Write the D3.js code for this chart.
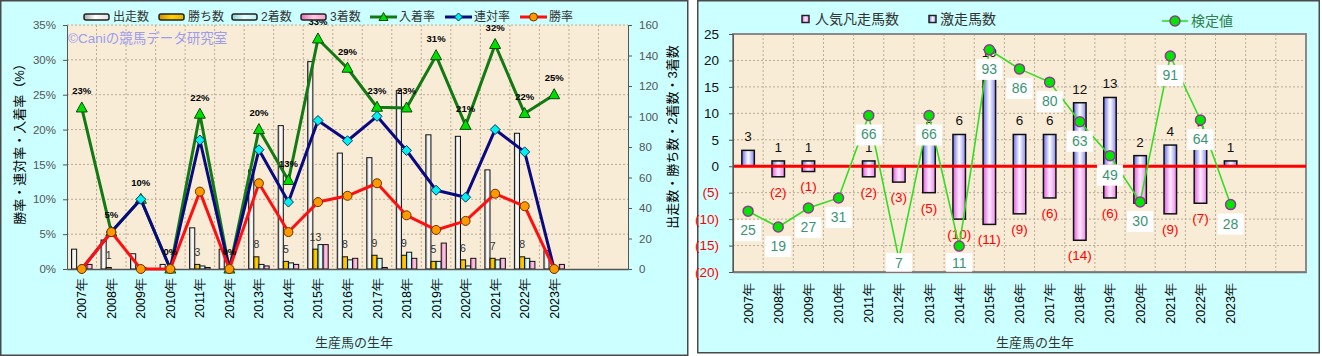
<!DOCTYPE html>
<html><head><meta charset="utf-8">
<script src="https://cdn.jsdelivr.net/npm/d3@7"></script>
<style>
body{margin:0;background:#fff;}
svg{display:block;font-family:"Liberation Sans","Noto Sans CJK JP",sans-serif;}
</style></head><body>
<svg id="c" width="1322" height="356"></svg>
<script>
// ---------- DATA ----------
const years = ["2007年","2008年","2009年","2010年","2011年","2012年","2013年","2014年","2015年","2016年","2017年","2018年","2019年","2020年","2021年","2022年","2023年"];
const nSlots = 19;
// left chart counts
const runs    = [13, 19, 10, 3, 27, 13, 65, 94, 136, 76, 73, 117, 88, 87, 65, 89, 12];
const wins    = [0, 1, 0, 0, 3, 0, 8, 5, 13, 8, 9, 9, 5, 6, 7, 8, 0];
const seconds = [0, 0, 1, 0, 2, 0, 3, 4, 16, 6, 7, 11, 5, 2, 6, 7, 0];
const thirds  = [3, 0, 0, 0, 1, 0, 2, 3, 16, 7, 1, 7, 17, 7, 7, 5, 3];
// left chart rates (%)
const showRate  = [23.1, 5.3, 10, 0, 22.2, 0, 20.0, 12.7, 33.0, 28.8, 23.2, 23.1, 30.6, 20.6, 32.2, 22.3, 25.0];
const placeRate = [0, 5.3, 10, 0, 18.5, 0, 17.1, 9.6, 21.3, 18.4, 21.9, 17.0, 11.3, 10.3, 20.0, 16.8, 0];
const winRate   = [0, 5.3, 0, 0, 11.1, 0, 12.3, 5.3, 9.6, 10.5, 12.3, 7.7, 5.6, 6.9, 10.8, 9.0, 0];
const showLabels = ["23%","5%","10%","0%","22%","0%","20%","13%","33%","29%","23%","23%","31%","21%","32%","22%","25%"];
const leftPctTicks = [0,5,10,15,20,25,30,35];
const rightCountTicks = [0,20,40,60,80,100,120,140,160];
// right chart
const gekisou = [3, 1, 1, 0, 1, 0, 5, 6, 19, 6, 6, 12, 13, 2, 4, 5, 1];
const ninkiBonsou = [0, -2, -1, 0, -2, -3, -5, -10, -11, -9, -6, -14, -6, -7, -9, -7, 0];
const kentei = [-8.5, -11.5, -7.9, -6.0, 9.6, -17.5, 9.6, -15.1, 22.0, 18.4, 15.9, 8.4, 2.0, -6.75, 20.85, 8.75, -7.25];
const kenteiLabels = ["25","19","27","31","66","7","66","11","93","86","80","63","49","30","91","64","28"];
const rightTicks = [-20,-15,-10,-5,0,5,10,15,20,25];

const svg = d3.select("#c");
const defs = svg.append("defs");
function hGrad(id, stops){
  const g = defs.append("linearGradient").attr("id",id).attr("x1","0").attr("x2","1").attr("y1","0").attr("y2","0");
  stops.forEach(s=>g.append("stop").attr("offset",s[0]).attr("stop-color",s[1]));
}
hGrad("gRuns",[["0%","#a8a8a8"],["45%","#ffffff"],["100%","#e0e0e0"]]);
hGrad("gWins",[["0%","#d09000"],["50%","#ffd200"],["100%","#e8b000"]]);
hGrad("gSec",[["0%","#88d0d0"],["50%","#e8ffff"],["100%","#b8eeee"]]);
hGrad("gThird",[["0%","#e070b0"],["50%","#ffc8e4"],["100%","#f0a0cc"]]);
hGrad("gGeki",[["0%","#6a6af0"],["50%","#ffffff"],["100%","#8888f4"]]);
hGrad("gNinki",[["0%","#e060e0"],["50%","#ffe8ff"],["100%","#ea88ea"]]);

// ---------- panels ----------
svg.append("rect").attr("x",0.75).attr("y",0.75).attr("width",687).attr("height",354.5)
  .attr("fill","#ccffff").attr("stroke","#4a4a4a").attr("stroke-width",1.5);
svg.append("rect").attr("x",697.75).attr("y",0.75).attr("width",621.5).attr("height",352)
  .attr("fill","#ccffff").attr("stroke","#4a4a4a").attr("stroke-width",1.5);

// ================= LEFT CHART =================
const L = {x0:67, x1:628, y0:25, y1:269};
const xL = d3.scaleBand().domain(d3.range(nSlots)).range([L.x0, L.x1]).padding(0);
const yPct = d3.scaleLinear().domain([0,35]).range([L.y1, L.y0]);
const yCnt = d3.scaleLinear().domain([0,160]).range([L.y1, L.y0]);
const gL = svg.append("g");
gL.append("rect").attr("x",L.x0).attr("y",L.y0).attr("width",L.x1-L.x0).attr("height",L.y1-L.y0).attr("fill","#f8ecd6");
// grid
gL.selectAll(".hg").data(leftPctTicks.slice(1)).join("line")
  .attr("x1",L.x0).attr("x2",L.x1).attr("y1",d=>yPct(d)).attr("y2",d=>yPct(d))
  .attr("stroke","#b9ad98").attr("stroke-dasharray","2,2");
gL.selectAll(".vg").data(d3.range(1,nSlots)).join("line")
  .attr("x1",i=>xL(i)).attr("x2",i=>xL(i)).attr("y1",L.y0).attr("y2",L.y1)
  .attr("stroke","#b9ad98").attr("stroke-dasharray","2,2");
// watermark
gL.append("text").attr("x",L.x0+1).attr("y",43).attr("font-size",13.5).attr("fill","#9c9cf0").text("©Caniの競馬データ研究室");

// bars
const sub = d3.scaleBand().domain(["runs","wins","sec","third"]).range([0,20.5]).padding(0);
const seriesBars = [["runs",runs,"url(#gRuns)"],["wins",wins,"url(#gWins)"],["sec",seconds,"url(#gSec)"],["third",thirds,"url(#gThird)"]];
const bandOff = (xL.bandwidth()-20.5)/2;
seriesBars.forEach(([k,arr,fill])=>{
  gL.append("g").selectAll("rect").data(arr.map((v,i)=>({v,i})).filter(d=>d.v>0)).join("rect")
    .attr("x",d=>xL(d.i)+bandOff+sub(k)).attr("width",sub.bandwidth())
    .attr("y",d=>yCnt(d.v)).attr("height",d=>yCnt(0)-yCnt(d.v))
    .attr("fill",fill).attr("stroke","#111").attr("stroke-width",1);
});
// wins labels
gL.append("g").selectAll("text").data(wins.map((v,i)=>({v,i})).filter(d=>d.v>0)).join("text")
  .attr("x",d=>xL(d.i)+bandOff+sub("wins")+sub.bandwidth()/2).attr("y",d=>yCnt(d.v)-12).attr("dy","0.35em")
  .attr("text-anchor","middle").attr("font-size",10.5).attr("fill","#333").text(d=>d.v);

// axes
const axL = gL.append("g").attr("transform",`translate(${L.x0},0)`)
  .call(d3.axisLeft(yPct).tickValues(leftPctTicks).tickFormat(d=>d+"%").tickSize(4).tickPadding(7));
axL.selectAll("text").attr("font-size",11.5).attr("fill","#555").attr("font-family","Liberation Sans, sans-serif");
axL.selectAll("line,path").attr("stroke","#555");
const axR = gL.append("g").attr("transform",`translate(${L.x1},0)`)
  .call(d3.axisRight(yCnt).tickValues(rightCountTicks).tickSize(4).tickPadding(7));
axR.selectAll("text").attr("font-size",11.5).attr("fill","#555").attr("font-family","Liberation Sans, sans-serif");
axR.selectAll("line,path").attr("stroke","#555");
const axB = gL.append("g").attr("transform",`translate(0,${L.y1})`)
  .call(d3.axisBottom(xL).tickFormat(i=>years[i]||"").tickSize(0));
axB.select("path").attr("stroke","#555").attr("stroke-width",1.5);
axB.selectAll("text").attr("transform","rotate(-90)").attr("x",-9).attr("y",0).attr("dy","0.36em")
  .style("text-anchor","end").attr("font-size",12.5).attr("fill","#000");

// lines
const cx = i=>xL(i)+xL.bandwidth()/2;
function drawLine(g, arr, color){
  g.append("path").datum(arr).attr("fill","none").attr("stroke",color).attr("stroke-width",3)
    .attr("stroke-linejoin","round")
    .attr("d",d3.line().x((d,i)=>cx(i)).y(d=>yPct(d)));
}
drawLine(gL, showRate, "#137a13");
gL.append("g").selectAll("path").data(showRate).join("path")
  .attr("transform",(d,i)=>`translate(${cx(i)},${yPct(d)})`)
  .attr("d","M0,-6L5.5,4L-5.5,4Z").attr("fill","#00e000").attr("stroke","#0a4a0a").attr("stroke-width",1);
drawLine(gL, placeRate, "#0a0a80");
gL.append("g").selectAll("path").data(placeRate).join("path")
  .attr("transform",(d,i)=>`translate(${cx(i)},${yPct(d)})`)
  .attr("d","M0,-5L5,0L0,5L-5,0Z").attr("fill","#00f0f0").attr("stroke","#0a3060").attr("stroke-width",1);
drawLine(gL, winRate, "#ff1010");
gL.append("g").selectAll("circle").data(winRate).join("circle")
  .attr("cx",(d,i)=>cx(i)).attr("cy",d=>yPct(d)).attr("r",4.5)
  .attr("fill","#ff9900").attr("stroke","#703000").attr("stroke-width",1);
// show-rate labels
gL.append("g").selectAll("text").data(showRate).join("text")
  .attr("x",(d,i)=>cx(i)).attr("y",d=>yPct(d)-17).attr("dy","0.35em").attr("text-anchor","middle")
  .attr("font-size",9.5).attr("font-weight","bold").attr("fill","#000").text((d,i)=>showLabels[i]);

// legend left
const legY = 17;
const legBars = [["出走数","url(#gRuns)",84],["勝ち数","url(#gWins)",159],["2着数","url(#gSec)",232],["3着数","url(#gThird)",301]];
legBars.forEach(([t,f,x])=>{
  gL.append("rect").attr("x",x).attr("y",legY-3).attr("width",25).attr("height",6).attr("rx",2)
    .attr("fill",f).attr("stroke","#222").attr("stroke-width",1.5);
  gL.append("text").attr("x",x+29).attr("y",legY).attr("dy","0.36em").attr("font-size",12).attr("fill","#333").text(t);
});
const legLines = [["入着率","#137a13",370,"tri"],["連対率","#0a0a80",445,"dia"],["勝率","#ff1010",520,"cir"]];
legLines.forEach(([t,c,x,m])=>{
  gL.append("line").attr("x1",x).attr("x2",x+27).attr("y1",legY).attr("y2",legY).attr("stroke",c).attr("stroke-width",3);
  const mx = x+13.5;
  if(m==="tri") gL.append("path").attr("transform",`translate(${mx},${legY})`).attr("d","M0,-4.5L4.5,3.5L-4.5,3.5Z").attr("fill","#00e000").attr("stroke","#0a4a0a");
  if(m==="dia") gL.append("path").attr("transform",`translate(${mx},${legY})`).attr("d","M0,-4L4,0L0,4L-4,0Z").attr("fill","#00f0f0").attr("stroke","#0a3060");
  if(m==="cir") gL.append("circle").attr("cx",mx).attr("cy",legY).attr("r",4).attr("fill","#ff9900").attr("stroke","#703000");
  gL.append("text").attr("x",x+29).attr("y",legY).attr("dy","0.36em").attr("font-size",12).attr("fill","#333").text(t);
});
// titles
gL.append("text").attr("transform","translate(19,141) rotate(-90)").attr("text-anchor","middle").attr("dy","0.36em")
  .attr("font-size",13).attr("fill","#000").text("勝率・連対率・入着率（%）");
gL.append("text").attr("transform","translate(672,137) rotate(-90)").attr("text-anchor","middle").attr("dy","0.36em")
  .attr("font-size",13).attr("fill","#000").text("出走数・勝ち数・2着数・3着数");
gL.append("text").attr("x",354).attr("y",342).attr("dy","0.36em").attr("text-anchor","middle")
  .attr("font-size",13).attr("fill","#333").text("生産馬の生年");

// ================= RIGHT CHART =================
const R = {x0:733, x1:1306, y0:34, y1:272};
const xR = d3.scaleBand().domain(d3.range(nSlots)).range([R.x0, R.x1]).padding(0);
const yV = d3.scaleLinear().domain([-20,25]).range([R.y1, R.y0]);
const gR = svg.append("g");
gR.append("rect").attr("x",R.x0).attr("y",R.y0).attr("width",R.x1-R.x0).attr("height",R.y1-R.y0).attr("fill","#f8ecd6");
gR.selectAll(".hg").data(rightTicks.filter(d=>d!==0 && d!==-20)).join("line")
  .attr("x1",R.x0).attr("x2",R.x1).attr("y1",d=>yV(d)).attr("y2",d=>yV(d))
  .attr("stroke","#b9ad98").attr("stroke-dasharray","2,2");
gR.selectAll(".vg").data(d3.range(1,nSlots)).join("line")
  .attr("x1",i=>xR(i)).attr("x2",i=>xR(i)).attr("y1",R.y0).attr("y2",R.y1)
  .attr("stroke","#b9ad98").attr("stroke-dasharray","2,2");
gR.append("rect").attr("x",R.x0).attr("y",R.y0).attr("width",R.x1-R.x0).attr("height",R.y1-R.y0)
  .attr("fill","none").attr("stroke","#8a8a8a").attr("stroke-width",2);

const rcx = i=>xR(i)+xR.bandwidth()/2;
const bw = 12.5;
// negative bars
gR.append("g").selectAll("rect").data(ninkiBonsou.map((v,i)=>({v,i})).filter(d=>d.v!==0)).join("rect")
  .attr("x",d=>rcx(d.i)-bw/2).attr("width",bw).attr("y",yV(0)).attr("height",d=>yV(d.v)-yV(0))
  .attr("fill","url(#gNinki)").attr("stroke","#111").attr("stroke-width",1.5);
gR.append("g").selectAll("rect").data(gekisou.map((v,i)=>({v,i})).filter(d=>d.v!==0)).join("rect")
  .attr("x",d=>rcx(d.i)-bw/2).attr("width",bw).attr("y",d=>yV(d.v)).attr("height",d=>yV(0)-yV(d.v))
  .attr("fill","url(#gGeki)").attr("stroke","#111").attr("stroke-width",1.5);
// zero line
gR.append("line").attr("x1",R.x0).attr("x2",R.x1).attr("y1",yV(0)).attr("y2",yV(0)).attr("stroke","#ff0000").attr("stroke-width",3);
// bar labels
gR.append("g").selectAll("text").data(gekisou.map((v,i)=>({v,i})).filter(d=>d.v!==0)).join("text")
  .attr("x",d=>rcx(d.i)).attr("y",d=>yV(d.v)-14).attr("dy","0.36em").attr("text-anchor","middle")
  .attr("font-size",13.5).attr("fill","#111").text(d=>d.v);
gR.append("g").selectAll("text").data(ninkiBonsou.map((v,i)=>({v,i})).filter(d=>d.v!==0)).join("text")
  .attr("x",d=>rcx(d.i)).attr("y",d=>yV(d.v)+15).attr("dy","0.36em").attr("text-anchor","middle")
  .attr("font-size",13.5).attr("fill","#ff0000").text(d=>`(${-d.v})`);
// kentei line
gR.append("path").datum(kentei).attr("fill","none").attr("stroke","#33dd22").attr("stroke-width",1.6)
  .attr("d",d3.line().x((d,i)=>rcx(i)).y(d=>yV(d)));
gR.append("g").selectAll("circle").data(kentei).join("circle")
  .attr("cx",(d,i)=>rcx(i)).attr("cy",d=>yV(d)).attr("r",5)
  .attr("fill","#00e600").attr("stroke","#8e3a8e").attr("stroke-width",1.5);
// kentei labels
const kl = gR.append("g").selectAll("g").data(kentei).join("g")
  .attr("transform",(d,i)=>`translate(${rcx(i)},${Math.min(yV(d)+19, R.y1-9)})`);
kl.append("rect").attr("x",d=>-13).attr("y",-10).attr("width",26).attr("height",21).attr("fill","#fff");
kl.append("text").attr("text-anchor","middle").attr("dy","0.36em").attr("font-size",14).attr("fill","#3a9474")
  .text((d,i)=>kenteiLabels[i]);

// axes
const axRL = gR.append("g").attr("transform",`translate(${R.x0},0)`)
  .call(d3.axisLeft(yV).tickValues(rightTicks).tickFormat(d=>d<0?`(${-d})`:d).tickSize(4).tickPadding(10));
axRL.selectAll("text").attr("font-size",13.5).attr("fill",d=>d<0?"#ff0000":"#111");
axRL.selectAll("line,path").attr("stroke","#555");
const axRB = gR.append("g").attr("transform",`translate(0,${R.y1})`)
  .call(d3.axisBottom(xR).tickFormat(i=>years[i]||"").tickSize(0));
axRB.select("path").attr("stroke","#777").attr("stroke-width",1.5);
axRB.selectAll("text").attr("transform","rotate(-90)").attr("x",-11).attr("y",0).attr("dy","0.36em")
  .style("text-anchor","end").attr("font-size",12.5).attr("fill","#000");

// legend right
const rLegY = 19;
gR.append("rect").attr("x",802).attr("y",rLegY-3.5).attr("width",7).attr("height",7).attr("fill","url(#gNinki)").attr("stroke","#222").attr("stroke-width",1.5);
gR.append("text").attr("x",815).attr("y",rLegY).attr("dy","0.36em").attr("font-size",14).attr("fill","#333").text("人気凡走馬数");
gR.append("rect").attr("x",929).attr("y",rLegY-3.5).attr("width",7).attr("height",7).attr("fill","url(#gGeki)").attr("stroke","#222").attr("stroke-width",1.5);
gR.append("text").attr("x",940).attr("y",rLegY).attr("dy","0.36em").attr("font-size",14).attr("fill","#333").text("激走馬数");
gR.append("line").attr("x1",1162).attr("x2",1188).attr("y1",rLegY+2).attr("y2",rLegY+2).attr("stroke","#33dd22").attr("stroke-width",1.6);
gR.append("circle").attr("cx",1175).attr("cy",rLegY+2).attr("r",5).attr("fill","#00e600").attr("stroke","#8e3a8e").attr("stroke-width",1.5);
gR.append("text").attr("x",1191).attr("y",rLegY+2).attr("dy","0.36em").attr("font-size",14).attr("fill","#2e7d4a").text("検定値");
gR.append("text").attr("x",1035).attr("y",342).attr("dy","0.36em").attr("text-anchor","middle")
  .attr("font-size",13).attr("fill","#333").text("生産馬の生年");
</script>
</body></html>
